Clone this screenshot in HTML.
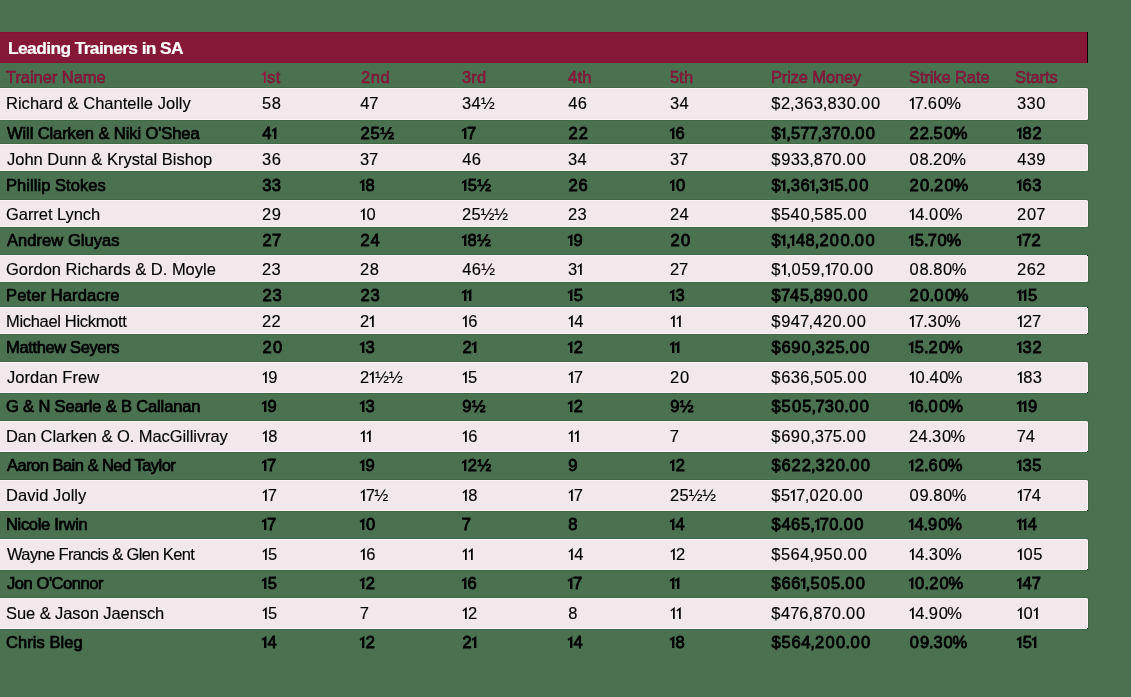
<!DOCTYPE html>
<html><head><meta charset="utf-8"><style>
html,body{margin:0;padding:0;}
body{width:1131px;height:697px;background:#4a7250;position:relative;overflow:hidden;font-family:"Liberation Sans",sans-serif;}
.p{position:absolute;left:0;width:1087px;background:#f2e8ec;border:1px solid #fdf1f6;border-left:0;border-radius:0 1.5px 1.5px 0;box-shadow:0 0 0 1px #3d6944;box-sizing:border-box;width:1088px;}
.t{position:absolute;will-change:transform;white-space:nowrap;line-height:20px;font-size:16.5px;color:#000;-webkit-text-stroke:0.15px #000;}
.b{font-weight:normal;color:#000;-webkit-text-stroke:0.7px #000;}
.b.n{-webkit-text-stroke-width:0.85px;}
.h{color:#9c1644;-webkit-text-stroke:0.45px #6e0c2c;}
.t i{display:inline-block;font-style:normal;white-space:pre;}
.t i.d0{width:10.200px;text-indent:0.512px}
.b i.d0{width:10.600px;text-indent:0.712px}
.t i.d2{width:9.400px;text-indent:0.112px}
.b i.d2{width:10.200px;text-indent:0.512px}
.t i.d3{width:9.400px;text-indent:0.112px}
.b i.d3{width:9.600px;text-indent:0.212px}
.t i.d4{width:9.600px;text-indent:0.212px}
.b i.d4{width:9.600px;text-indent:0.212px}
.t i.d5{width:9.400px;text-indent:0.112px}
.b i.d5{width:10.000px;text-indent:0.412px}
.t i.d6{width:9.700px;text-indent:0.262px}
.b i.d6{width:9.800px;text-indent:0.312px}
.t i.d7{width:8.600px;text-indent:-0.288px}
.b i.d7{width:8.700px;text-indent:-0.238px}
.t i.d8{width:9.700px;text-indent:0.262px}
.b i.d8{width:9.600px;text-indent:0.212px}
.t i.d9{width:9.700px;text-indent:0.262px}
.b i.d9{width:9.800px;text-indent:0.312px}
.t i.dS{width:9.900px;text-indent:0.362px}
.b i.dS{width:10.200px;text-indent:0.512px}
.t i.dC{width:4.200px;text-indent:-0.192px}
.b i.dC{width:4.000px;text-indent:-0.292px}
.t i.dP{width:4.000px;text-indent:-0.292px}
.b i.dP{width:3.800px;text-indent:-0.392px}
.t i.dR{width:12.400px;text-indent:-1.136px}
.b i.dR{width:12.800px;text-indent:-0.936px}
.t i.dH{width:13.600px;text-indent:-0.080px}
.b i.dH{width:13.700px;text-indent:-0.030px}
.t i.d1{width:6.00px;height:20px;position:relative;vertical-align:top;color:transparent;-webkit-text-stroke:0;}
.b i.d1{width:5.30px;}
.t i.d1::after{content:"";position:absolute;left:calc(var(--o,0px) - 2px);top:4.0px;width:9px;height:12px;background:#000;clip-path:polygon(6.65px 0.1px,6.65px 12px,4.9px 12px,4.9px 3.0px,3.1px 4.5px,2.3px 3.3px);}
.b i.d1::after{clip-path:polygon(6.4px 0.1px,6.4px 12px,4.0px 12px,4.0px 3.6px,2.4px 4.7px,1.5px 3.1px);}
.h i.d1::after{background:#9c1644}
#title{position:absolute;left:0;top:32px;width:1087px;height:31px;background:#851737;border-right:1px solid #0a0204;box-shadow:inset 0 1px 0 #8b1035,inset 0 -1px 0 #8b1035;}
</style></head><body>
<div id="title"><div class="t" style="left:7.50px;top:5.97px;font-size:17.4px;font-weight:bold;color:#fff;-webkit-text-stroke:0.2px #fff;letter-spacing:-0.609px">Leading Trainers in SA</div></div>
<div class="p" style="top:88.0px;height:32.0px"></div>
<div class="p" style="top:144.0px;height:27.0px"></div>
<div class="p" style="top:200.0px;height:27.0px"></div>
<div class="p" style="top:255.0px;height:27.0px"></div>
<div class="p" style="top:307.0px;height:27.0px"></div>
<div class="p" style="top:362.0px;height:31.0px"></div>
<div class="p" style="top:421.0px;height:31.0px"></div>
<div class="p" style="top:480.0px;height:31.0px"></div>
<div class="p" style="top:539.0px;height:31.0px"></div>
<div class="p" style="top:598.0px;height:31.0px"></div>
<div style="position:absolute;left:1087px;top:255px;width:1px;height:1px;background:#2a0d16"></div>
<div style="position:absolute;left:1087px;top:307px;width:1px;height:1px;background:#2a0d16"></div>
<div style="position:absolute;left:1087px;top:333px;width:1px;height:1px;background:#2a0d16"></div>
<div style="position:absolute;left:1087px;top:392px;width:1px;height:1px;background:#2a0d16"></div>
<div style="position:absolute;left:1087px;top:451px;width:1px;height:1px;background:#2a0d16"></div>
<div style="position:absolute;left:1087px;top:510px;width:1px;height:1px;background:#2a0d16"></div>
<div style="position:absolute;left:1087px;top:569px;width:1px;height:1px;background:#2a0d16"></div>
<div style="position:absolute;left:1087px;top:628px;width:1px;height:1px;background:#2a0d16"></div>
<div class="t h" style="left:6.20px;top:67.08px;letter-spacing:-0.052px">Trainer Name</div>
<div class="t h" style="left:261px;top:67.08px;letter-spacing:0.6px"><i class="d1" style="--o:0.10px">1</i>st</div>
<div class="t h" style="left:360.70px;top:67.08px;letter-spacing:0.523px">2nd</div>
<div class="t h" style="left:461.90px;top:67.08px;letter-spacing:0.164px">3rd</div>
<div class="t h" style="left:568.10px;top:67.08px;letter-spacing:0.270px">4th</div>
<div class="t h" style="left:670.30px;top:67.08px;letter-spacing:0.120px">5th</div>
<div class="t h" style="left:771.20px;top:67.08px;letter-spacing:-0.145px">Prize Money</div>
<div class="t h" style="left:908.60px;top:67.08px;letter-spacing:-0.104px">Strike Rate</div>
<div class="t h" style="left:1015.30px;top:67.08px;letter-spacing:-0.049px">Starts</div>
<div class="t" style="left:5.50px;top:93.08px;letter-spacing:0.017px">Richard &amp; Chantelle Jolly</div>
<div class="t" style="left:262.0px;top:93.08px"><i class="d5">5</i><i class="d8">8</i></div>
<div class="t" style="left:360.0px;top:93.08px"><i class="d4">4</i><i class="d7">7</i></div>
<div class="t" style="left:462.0px;top:93.08px"><i class="d3">3</i><i class="d4">4</i><i class="dH">½</i></div>
<div class="t" style="left:568.0px;top:93.08px"><i class="d4">4</i><i class="d6">6</i></div>
<div class="t" style="left:670.0px;top:93.08px"><i class="d3">3</i><i class="d4">4</i></div>
<div class="t" style="left:771.0px;top:93.08px"><i class="dS">$</i><i class="d2">2</i><i class="dC">,</i><i class="d3">3</i><i class="d6">6</i><i class="d3">3</i><i class="dC">,</i><i class="d8">8</i><i class="d3">3</i><i class="d0">0</i><i class="dP">.</i><i class="d0">0</i><i class="d0">0</i></div>
<div class="t" style="left:909.0px;top:93.08px"><i class="d1" style="--o:0.10px">1</i><i class="d7">7</i><i class="dP">.</i><i class="d6">6</i><i class="d0">0</i><i class="dR">%</i></div>
<div class="t" style="left:1017.0px;top:93.08px"><i class="d3">3</i><i class="d3">3</i><i class="d0">0</i></div>
<div class="t b" style="left:6.50px;top:122.98px;letter-spacing:-0.088px">Will Clarken &amp; Niki O'Shea</div>
<div class="t b n" style="left:262.0px;top:122.98px"><i class="d4">4</i><i class="d1" style="--o:0.40px">1</i></div>
<div class="t b n" style="left:360.0px;top:122.98px"><i class="d2">2</i><i class="d5">5</i><i class="dH">½</i></div>
<div class="t b n" style="left:462.0px;top:122.98px"><i class="d1" style="--o:0.00px">1</i><i class="d7">7</i></div>
<div class="t b n" style="left:568.0px;top:122.98px"><i class="d2">2</i><i class="d2">2</i></div>
<div class="t b n" style="left:670.0px;top:122.98px"><i class="d1" style="--o:0.00px">1</i><i class="d6">6</i></div>
<div class="t b n" style="left:771.0px;top:122.98px"><i class="dS">$</i><i class="d1" style="--o:-0.20px">1</i><i class="dC">,</i><i class="d5">5</i><i class="d7">7</i><i class="d7">7</i><i class="dC">,</i><i class="d3">3</i><i class="d7">7</i><i class="d0">0</i><i class="dP">.</i><i class="d0">0</i><i class="d0">0</i></div>
<div class="t b n" style="left:909.0px;top:122.98px"><i class="d2">2</i><i class="d2">2</i><i class="dP">.</i><i class="d5">5</i><i class="d0">0</i><i class="dR">%</i></div>
<div class="t b n" style="left:1017.0px;top:122.98px"><i class="d1" style="--o:0.00px">1</i><i class="d8">8</i><i class="d2">2</i></div>
<div class="t" style="left:6.50px;top:148.98px;letter-spacing:-0.007px">John Dunn &amp; Krystal Bishop</div>
<div class="t" style="left:262.0px;top:148.98px"><i class="d3">3</i><i class="d6">6</i></div>
<div class="t" style="left:360.0px;top:148.98px"><i class="d3">3</i><i class="d7">7</i></div>
<div class="t" style="left:462.0px;top:148.98px"><i class="d4">4</i><i class="d6">6</i></div>
<div class="t" style="left:568.0px;top:148.98px"><i class="d3">3</i><i class="d4">4</i></div>
<div class="t" style="left:670.0px;top:148.98px"><i class="d3">3</i><i class="d7">7</i></div>
<div class="t" style="left:771.0px;top:148.98px"><i class="dS">$</i><i class="d9">9</i><i class="d3">3</i><i class="d3">3</i><i class="dC">,</i><i class="d8">8</i><i class="d7">7</i><i class="d0">0</i><i class="dP">.</i><i class="d0">0</i><i class="d0">0</i></div>
<div class="t" style="left:909.0px;top:148.98px"><i class="d0">0</i><i class="d8">8</i><i class="dP">.</i><i class="d2">2</i><i class="d0">0</i><i class="dR">%</i></div>
<div class="t" style="left:1017.0px;top:148.98px"><i class="d4">4</i><i class="d3">3</i><i class="d9">9</i></div>
<div class="t b" style="left:5.50px;top:175.18px;letter-spacing:0.054px">Phillip Stokes</div>
<div class="t b n" style="left:262.0px;top:175.18px"><i class="d3">3</i><i class="d3">3</i></div>
<div class="t b n" style="left:360.0px;top:175.18px"><i class="d1" style="--o:0.00px">1</i><i class="d8">8</i></div>
<div class="t b n" style="left:462.0px;top:175.18px"><i class="d1" style="--o:0.00px">1</i><i class="d5">5</i><i class="dH">½</i></div>
<div class="t b n" style="left:568.0px;top:175.18px"><i class="d2">2</i><i class="d6">6</i></div>
<div class="t b n" style="left:670.0px;top:175.18px"><i class="d1" style="--o:0.00px">1</i><i class="d0">0</i></div>
<div class="t b n" style="left:771.0px;top:175.18px"><i class="dS">$</i><i class="d1" style="--o:-0.20px">1</i><i class="dC">,</i><i class="d3">3</i><i class="d6">6</i><i class="d1" style="--o:0.10px">1</i><i class="dC">,</i><i class="d3">3</i><i class="d1" style="--o:0.20px">1</i><i class="d5">5</i><i class="dP">.</i><i class="d0">0</i><i class="d0">0</i></div>
<div class="t b n" style="left:909.0px;top:175.18px"><i class="d2">2</i><i class="d0">0</i><i class="dP">.</i><i class="d2">2</i><i class="d0">0</i><i class="dR">%</i></div>
<div class="t b n" style="left:1017.0px;top:175.18px"><i class="d1" style="--o:0.00px">1</i><i class="d6">6</i><i class="d3">3</i></div>
<div class="t" style="left:5.70px;top:204.28px;letter-spacing:-0.053px">Garret Lynch</div>
<div class="t" style="left:262.0px;top:204.28px"><i class="d2">2</i><i class="d9">9</i></div>
<div class="t" style="left:360.0px;top:204.28px"><i class="d1" style="--o:0.10px">1</i><i class="d0">0</i></div>
<div class="t" style="left:462.0px;top:204.28px"><i class="d2">2</i><i class="d5">5</i><i class="dH">½</i><i class="dH">½</i></div>
<div class="t" style="left:568.0px;top:204.28px"><i class="d2">2</i><i class="d3">3</i></div>
<div class="t" style="left:670.0px;top:204.28px"><i class="d2">2</i><i class="d4">4</i></div>
<div class="t" style="left:771.0px;top:204.28px"><i class="dS">$</i><i class="d5">5</i><i class="d4">4</i><i class="d0">0</i><i class="dC">,</i><i class="d5">5</i><i class="d8">8</i><i class="d5">5</i><i class="dP">.</i><i class="d0">0</i><i class="d0">0</i></div>
<div class="t" style="left:909.0px;top:204.28px"><i class="d1" style="--o:0.10px">1</i><i class="d4">4</i><i class="dP">.</i><i class="d0">0</i><i class="d0">0</i><i class="dR">%</i></div>
<div class="t" style="left:1017.0px;top:204.28px"><i class="d2">2</i><i class="d0">0</i><i class="d7">7</i></div>
<div class="t b" style="left:6.50px;top:230.28px;letter-spacing:0.056px">Andrew Gluyas</div>
<div class="t b n" style="left:262.0px;top:230.28px"><i class="d2">2</i><i class="d7">7</i></div>
<div class="t b n" style="left:360.0px;top:230.28px"><i class="d2">2</i><i class="d4">4</i></div>
<div class="t b n" style="left:462.0px;top:230.28px"><i class="d1" style="--o:0.00px">1</i><i class="d8">8</i><i class="dH">½</i></div>
<div class="t b n" style="left:568.0px;top:230.28px"><i class="d1" style="--o:0.00px">1</i><i class="d9">9</i></div>
<div class="t b n" style="left:670.0px;top:230.28px"><i class="d2">2</i><i class="d0">0</i></div>
<div class="t b n" style="left:771.0px;top:230.28px"><i class="dS">$</i><i class="d1" style="--o:-0.20px">1</i><i class="dC">,</i><i class="d1" style="--o:-0.50px">1</i><i class="d4">4</i><i class="d8">8</i><i class="dC">,</i><i class="d2">2</i><i class="d0">0</i><i class="d0">0</i><i class="dP">.</i><i class="d0">0</i><i class="d0">0</i></div>
<div class="t b n" style="left:909.0px;top:230.28px"><i class="d1" style="--o:0.00px">1</i><i class="d5">5</i><i class="dP">.</i><i class="d7">7</i><i class="d0">0</i><i class="dR">%</i></div>
<div class="t b n" style="left:1017.0px;top:230.28px"><i class="d1" style="--o:0.00px">1</i><i class="d7">7</i><i class="d2">2</i></div>
<div class="t" style="left:5.70px;top:259.48px;letter-spacing:-0.005px">Gordon Richards &amp; D. Moyle</div>
<div class="t" style="left:262.0px;top:259.48px"><i class="d2">2</i><i class="d3">3</i></div>
<div class="t" style="left:360.0px;top:259.48px"><i class="d2">2</i><i class="d8">8</i></div>
<div class="t" style="left:462.0px;top:259.48px"><i class="d4">4</i><i class="d6">6</i><i class="dH">½</i></div>
<div class="t" style="left:568.0px;top:259.48px"><i class="d3">3</i><i class="d1" style="--o:-0.30px">1</i></div>
<div class="t" style="left:670.0px;top:259.48px"><i class="d2">2</i><i class="d7">7</i></div>
<div class="t" style="left:771.0px;top:259.48px"><i class="dS">$</i><i class="d1" style="--o:0.20px">1</i><i class="dC">,</i><i class="d0">0</i><i class="d5">5</i><i class="d9">9</i><i class="dC">,</i><i class="d1" style="--o:0.50px">1</i><i class="d7">7</i><i class="d0">0</i><i class="dP">.</i><i class="d0">0</i><i class="d0">0</i></div>
<div class="t" style="left:909.0px;top:259.48px"><i class="d0">0</i><i class="d8">8</i><i class="dP">.</i><i class="d8">8</i><i class="d0">0</i><i class="dR">%</i></div>
<div class="t" style="left:1017.0px;top:259.48px"><i class="d2">2</i><i class="d6">6</i><i class="d2">2</i></div>
<div class="t b" style="left:5.50px;top:284.98px;letter-spacing:0.123px">Peter Hardacre</div>
<div class="t b n" style="left:262.0px;top:284.98px"><i class="d2">2</i><i class="d3">3</i></div>
<div class="t b n" style="left:360.0px;top:284.98px"><i class="d2">2</i><i class="d3">3</i></div>
<div class="t b n" style="left:462.0px;top:284.98px"><i class="d1" style="--o:0.00px">1</i><i class="d1" style="--o:-0.30px">1</i></div>
<div class="t b n" style="left:568.0px;top:284.98px"><i class="d1" style="--o:0.00px">1</i><i class="d5">5</i></div>
<div class="t b n" style="left:670.0px;top:284.98px"><i class="d1" style="--o:0.00px">1</i><i class="d3">3</i></div>
<div class="t b n" style="left:771.0px;top:284.98px"><i class="dS">$</i><i class="d7">7</i><i class="d4">4</i><i class="d5">5</i><i class="dC">,</i><i class="d8">8</i><i class="d9">9</i><i class="d0">0</i><i class="dP">.</i><i class="d0">0</i><i class="d0">0</i></div>
<div class="t b n" style="left:909.0px;top:284.98px"><i class="d2">2</i><i class="d0">0</i><i class="dP">.</i><i class="d0">0</i><i class="d0">0</i><i class="dR">%</i></div>
<div class="t b n" style="left:1017.0px;top:284.98px"><i class="d1" style="--o:0.00px">1</i><i class="d1" style="--o:-0.30px">1</i><i class="d5">5</i></div>
<div class="t" style="left:5.50px;top:310.78px;letter-spacing:-0.322px">Michael Hickmott</div>
<div class="t" style="left:262.0px;top:310.78px"><i class="d2">2</i><i class="d2">2</i></div>
<div class="t" style="left:360.0px;top:310.78px"><i class="d2">2</i><i class="d1" style="--o:-0.30px">1</i></div>
<div class="t" style="left:462.0px;top:310.78px"><i class="d1" style="--o:0.10px">1</i><i class="d6">6</i></div>
<div class="t" style="left:568.0px;top:310.78px"><i class="d1" style="--o:0.10px">1</i><i class="d4">4</i></div>
<div class="t" style="left:670.0px;top:310.78px"><i class="d1" style="--o:0.10px">1</i><i class="d1" style="--o:0.10px">1</i></div>
<div class="t" style="left:771.0px;top:310.78px"><i class="dS">$</i><i class="d9">9</i><i class="d4">4</i><i class="d7">7</i><i class="dC">,</i><i class="d4">4</i><i class="d2">2</i><i class="d0">0</i><i class="dP">.</i><i class="d0">0</i><i class="d0">0</i></div>
<div class="t" style="left:909.0px;top:310.78px"><i class="d1" style="--o:0.10px">1</i><i class="d7">7</i><i class="dP">.</i><i class="d3">3</i><i class="d0">0</i><i class="dR">%</i></div>
<div class="t" style="left:1017.0px;top:310.78px"><i class="d1" style="--o:0.10px">1</i><i class="d2">2</i><i class="d7">7</i></div>
<div class="t b" style="left:5.50px;top:336.98px;letter-spacing:-0.365px">Matthew Seyers</div>
<div class="t b n" style="left:262.0px;top:336.98px"><i class="d2">2</i><i class="d0">0</i></div>
<div class="t b n" style="left:360.0px;top:336.98px"><i class="d1" style="--o:0.00px">1</i><i class="d3">3</i></div>
<div class="t b n" style="left:462.0px;top:336.98px"><i class="d2">2</i><i class="d1" style="--o:-0.20px">1</i></div>
<div class="t b n" style="left:568.0px;top:336.98px"><i class="d1" style="--o:0.00px">1</i><i class="d2">2</i></div>
<div class="t b n" style="left:670.0px;top:336.98px"><i class="d1" style="--o:0.00px">1</i><i class="d1" style="--o:-0.30px">1</i></div>
<div class="t b n" style="left:771.0px;top:336.98px"><i class="dS">$</i><i class="d6">6</i><i class="d9">9</i><i class="d0">0</i><i class="dC">,</i><i class="d3">3</i><i class="d2">2</i><i class="d5">5</i><i class="dP">.</i><i class="d0">0</i><i class="d0">0</i></div>
<div class="t b n" style="left:909.0px;top:336.98px"><i class="d1" style="--o:0.00px">1</i><i class="d5">5</i><i class="dP">.</i><i class="d2">2</i><i class="d0">0</i><i class="dR">%</i></div>
<div class="t b n" style="left:1017.0px;top:336.98px"><i class="d1" style="--o:0.00px">1</i><i class="d3">3</i><i class="d2">2</i></div>
<div class="t" style="left:6.50px;top:367.08px;letter-spacing:0.042px">Jordan Frew</div>
<div class="t" style="left:262.0px;top:367.08px"><i class="d1" style="--o:0.10px">1</i><i class="d9">9</i></div>
<div class="t" style="left:360.0px;top:367.08px"><i class="d2">2</i><i class="d1" style="--o:-0.30px">1</i><i class="dH">½</i><i class="dH">½</i></div>
<div class="t" style="left:462.0px;top:367.08px"><i class="d1" style="--o:0.10px">1</i><i class="d5">5</i></div>
<div class="t" style="left:568.0px;top:367.08px"><i class="d1" style="--o:0.10px">1</i><i class="d7">7</i></div>
<div class="t" style="left:670.0px;top:367.08px"><i class="d2">2</i><i class="d0">0</i></div>
<div class="t" style="left:771.0px;top:367.08px"><i class="dS">$</i><i class="d6">6</i><i class="d3">3</i><i class="d6">6</i><i class="dC">,</i><i class="d5">5</i><i class="d0">0</i><i class="d5">5</i><i class="dP">.</i><i class="d0">0</i><i class="d0">0</i></div>
<div class="t" style="left:909.0px;top:367.08px"><i class="d1" style="--o:0.10px">1</i><i class="d0">0</i><i class="dP">.</i><i class="d4">4</i><i class="d0">0</i><i class="dR">%</i></div>
<div class="t" style="left:1017.0px;top:367.08px"><i class="d1" style="--o:0.10px">1</i><i class="d8">8</i><i class="d3">3</i></div>
<div class="t b" style="left:5.70px;top:396.38px;letter-spacing:-0.155px">G &amp; N Searle &amp; B Callanan</div>
<div class="t b n" style="left:262.0px;top:396.38px"><i class="d1" style="--o:0.00px">1</i><i class="d9">9</i></div>
<div class="t b n" style="left:360.0px;top:396.38px"><i class="d1" style="--o:0.00px">1</i><i class="d3">3</i></div>
<div class="t b n" style="left:462.0px;top:396.38px"><i class="d9">9</i><i class="dH">½</i></div>
<div class="t b n" style="left:568.0px;top:396.38px"><i class="d1" style="--o:0.00px">1</i><i class="d2">2</i></div>
<div class="t b n" style="left:670.0px;top:396.38px"><i class="d9">9</i><i class="dH">½</i></div>
<div class="t b n" style="left:771.0px;top:396.38px"><i class="dS">$</i><i class="d5">5</i><i class="d0">0</i><i class="d5">5</i><i class="dC">,</i><i class="d7">7</i><i class="d3">3</i><i class="d0">0</i><i class="dP">.</i><i class="d0">0</i><i class="d0">0</i></div>
<div class="t b n" style="left:909.0px;top:396.38px"><i class="d1" style="--o:0.00px">1</i><i class="d6">6</i><i class="dP">.</i><i class="d0">0</i><i class="d0">0</i><i class="dR">%</i></div>
<div class="t b n" style="left:1017.0px;top:396.38px"><i class="d1" style="--o:0.00px">1</i><i class="d1" style="--o:-0.30px">1</i><i class="d9">9</i></div>
<div class="t" style="left:5.50px;top:426.28px;letter-spacing:-0.067px">Dan Clarken &amp; O. MacGillivray</div>
<div class="t" style="left:262.0px;top:426.28px"><i class="d1" style="--o:0.10px">1</i><i class="d8">8</i></div>
<div class="t" style="left:360.0px;top:426.28px"><i class="d1" style="--o:0.10px">1</i><i class="d1" style="--o:0.10px">1</i></div>
<div class="t" style="left:462.0px;top:426.28px"><i class="d1" style="--o:0.10px">1</i><i class="d6">6</i></div>
<div class="t" style="left:568.0px;top:426.28px"><i class="d1" style="--o:0.10px">1</i><i class="d1" style="--o:0.10px">1</i></div>
<div class="t" style="left:670.0px;top:426.28px"><i class="d7">7</i></div>
<div class="t" style="left:771.0px;top:426.28px"><i class="dS">$</i><i class="d6">6</i><i class="d9">9</i><i class="d0">0</i><i class="dC">,</i><i class="d3">3</i><i class="d7">7</i><i class="d5">5</i><i class="dP">.</i><i class="d0">0</i><i class="d0">0</i></div>
<div class="t" style="left:909.0px;top:426.28px"><i class="d2">2</i><i class="d4">4</i><i class="dP">.</i><i class="d3">3</i><i class="d0">0</i><i class="dR">%</i></div>
<div class="t" style="left:1017.0px;top:426.28px"><i class="d7">7</i><i class="d4">4</i></div>
<div class="t b" style="left:6.50px;top:455.38px;letter-spacing:-0.527px">Aaron Bain &amp; Ned Taylor</div>
<div class="t b n" style="left:262.0px;top:455.38px"><i class="d1" style="--o:0.00px">1</i><i class="d7">7</i></div>
<div class="t b n" style="left:360.0px;top:455.38px"><i class="d1" style="--o:0.00px">1</i><i class="d9">9</i></div>
<div class="t b n" style="left:462.0px;top:455.38px"><i class="d1" style="--o:0.00px">1</i><i class="d2">2</i><i class="dH">½</i></div>
<div class="t b n" style="left:568.0px;top:455.38px"><i class="d9">9</i></div>
<div class="t b n" style="left:670.0px;top:455.38px"><i class="d1" style="--o:0.00px">1</i><i class="d2">2</i></div>
<div class="t b n" style="left:771.0px;top:455.38px"><i class="dS">$</i><i class="d6">6</i><i class="d2">2</i><i class="d2">2</i><i class="dC">,</i><i class="d3">3</i><i class="d2">2</i><i class="d0">0</i><i class="dP">.</i><i class="d0">0</i><i class="d0">0</i></div>
<div class="t b n" style="left:909.0px;top:455.38px"><i class="d1" style="--o:0.00px">1</i><i class="d2">2</i><i class="dP">.</i><i class="d6">6</i><i class="d0">0</i><i class="dR">%</i></div>
<div class="t b n" style="left:1017.0px;top:455.38px"><i class="d1" style="--o:0.00px">1</i><i class="d3">3</i><i class="d5">5</i></div>
<div class="t" style="left:5.50px;top:484.98px;letter-spacing:0.057px">David Jolly</div>
<div class="t" style="left:262.0px;top:484.98px"><i class="d1" style="--o:0.10px">1</i><i class="d7">7</i></div>
<div class="t" style="left:360.0px;top:484.98px"><i class="d1" style="--o:0.10px">1</i><i class="d7">7</i><i class="dH">½</i></div>
<div class="t" style="left:462.0px;top:484.98px"><i class="d1" style="--o:0.10px">1</i><i class="d8">8</i></div>
<div class="t" style="left:568.0px;top:484.98px"><i class="d1" style="--o:0.10px">1</i><i class="d7">7</i></div>
<div class="t" style="left:670.0px;top:484.98px"><i class="d2">2</i><i class="d5">5</i><i class="dH">½</i><i class="dH">½</i></div>
<div class="t" style="left:771.0px;top:484.98px"><i class="dS">$</i><i class="d5">5</i><i class="d1" style="--o:-0.20px">1</i><i class="d7">7</i><i class="dC">,</i><i class="d0">0</i><i class="d2">2</i><i class="d0">0</i><i class="dP">.</i><i class="d0">0</i><i class="d0">0</i></div>
<div class="t" style="left:909.0px;top:484.98px"><i class="d0">0</i><i class="d9">9</i><i class="dP">.</i><i class="d8">8</i><i class="d0">0</i><i class="dR">%</i></div>
<div class="t" style="left:1017.0px;top:484.98px"><i class="d1" style="--o:0.10px">1</i><i class="d7">7</i><i class="d4">4</i></div>
<div class="t b" style="left:5.50px;top:513.98px;letter-spacing:-0.327px">Nicole Irwin</div>
<div class="t b n" style="left:262.0px;top:513.98px"><i class="d1" style="--o:0.00px">1</i><i class="d7">7</i></div>
<div class="t b n" style="left:360.0px;top:513.98px"><i class="d1" style="--o:0.00px">1</i><i class="d0">0</i></div>
<div class="t b n" style="left:462.0px;top:513.98px"><i class="d7">7</i></div>
<div class="t b n" style="left:568.0px;top:513.98px"><i class="d8">8</i></div>
<div class="t b n" style="left:670.0px;top:513.98px"><i class="d1" style="--o:0.00px">1</i><i class="d4">4</i></div>
<div class="t b n" style="left:771.0px;top:513.98px"><i class="dS">$</i><i class="d4">4</i><i class="d6">6</i><i class="d5">5</i><i class="dC">,</i><i class="d1" style="--o:0.40px">1</i><i class="d7">7</i><i class="d0">0</i><i class="dP">.</i><i class="d0">0</i><i class="d0">0</i></div>
<div class="t b n" style="left:909.0px;top:513.98px"><i class="d1" style="--o:0.00px">1</i><i class="d4">4</i><i class="dP">.</i><i class="d9">9</i><i class="d0">0</i><i class="dR">%</i></div>
<div class="t b n" style="left:1017.0px;top:513.98px"><i class="d1" style="--o:0.00px">1</i><i class="d1" style="--o:-0.30px">1</i><i class="d4">4</i></div>
<div class="t" style="left:6.50px;top:543.88px;letter-spacing:-0.629px">Wayne Francis &amp; Glen Kent</div>
<div class="t" style="left:262.0px;top:543.88px"><i class="d1" style="--o:0.10px">1</i><i class="d5">5</i></div>
<div class="t" style="left:360.0px;top:543.88px"><i class="d1" style="--o:0.10px">1</i><i class="d6">6</i></div>
<div class="t" style="left:462.0px;top:543.88px"><i class="d1" style="--o:0.10px">1</i><i class="d1" style="--o:0.10px">1</i></div>
<div class="t" style="left:568.0px;top:543.88px"><i class="d1" style="--o:0.10px">1</i><i class="d4">4</i></div>
<div class="t" style="left:670.0px;top:543.88px"><i class="d1" style="--o:0.10px">1</i><i class="d2">2</i></div>
<div class="t" style="left:771.0px;top:543.88px"><i class="dS">$</i><i class="d5">5</i><i class="d6">6</i><i class="d4">4</i><i class="dC">,</i><i class="d9">9</i><i class="d5">5</i><i class="d0">0</i><i class="dP">.</i><i class="d0">0</i><i class="d0">0</i></div>
<div class="t" style="left:909.0px;top:543.88px"><i class="d1" style="--o:0.10px">1</i><i class="d4">4</i><i class="dP">.</i><i class="d3">3</i><i class="d0">0</i><i class="dR">%</i></div>
<div class="t" style="left:1017.0px;top:543.88px"><i class="d1" style="--o:0.10px">1</i><i class="d0">0</i><i class="d5">5</i></div>
<div class="t b" style="left:6.50px;top:572.78px;letter-spacing:-0.427px">Jon O'Connor</div>
<div class="t b n" style="left:262.0px;top:572.78px"><i class="d1" style="--o:0.00px">1</i><i class="d5">5</i></div>
<div class="t b n" style="left:360.0px;top:572.78px"><i class="d1" style="--o:0.00px">1</i><i class="d2">2</i></div>
<div class="t b n" style="left:462.0px;top:572.78px"><i class="d1" style="--o:0.00px">1</i><i class="d6">6</i></div>
<div class="t b n" style="left:568.0px;top:572.78px"><i class="d1" style="--o:0.00px">1</i><i class="d7">7</i></div>
<div class="t b n" style="left:670.0px;top:572.78px"><i class="d1" style="--o:0.00px">1</i><i class="d1" style="--o:-0.30px">1</i></div>
<div class="t b n" style="left:771.0px;top:572.78px"><i class="dS">$</i><i class="d6">6</i><i class="d6">6</i><i class="d1" style="--o:0.20px">1</i><i class="dC">,</i><i class="d5">5</i><i class="d0">0</i><i class="d5">5</i><i class="dP">.</i><i class="d0">0</i><i class="d0">0</i></div>
<div class="t b n" style="left:909.0px;top:572.78px"><i class="d1" style="--o:0.00px">1</i><i class="d0">0</i><i class="dP">.</i><i class="d2">2</i><i class="d0">0</i><i class="dR">%</i></div>
<div class="t b n" style="left:1017.0px;top:572.78px"><i class="d1" style="--o:0.00px">1</i><i class="d4">4</i><i class="d7">7</i></div>
<div class="t" style="left:5.70px;top:602.98px;letter-spacing:-0.074px">Sue &amp; Jason Jaensch</div>
<div class="t" style="left:262.0px;top:602.98px"><i class="d1" style="--o:0.10px">1</i><i class="d5">5</i></div>
<div class="t" style="left:360.0px;top:602.98px"><i class="d7">7</i></div>
<div class="t" style="left:462.0px;top:602.98px"><i class="d1" style="--o:0.10px">1</i><i class="d2">2</i></div>
<div class="t" style="left:568.0px;top:602.98px"><i class="d8">8</i></div>
<div class="t" style="left:670.0px;top:602.98px"><i class="d1" style="--o:0.10px">1</i><i class="d1" style="--o:0.10px">1</i></div>
<div class="t" style="left:771.0px;top:602.98px"><i class="dS">$</i><i class="d4">4</i><i class="d7">7</i><i class="d6">6</i><i class="dC">,</i><i class="d8">8</i><i class="d7">7</i><i class="d0">0</i><i class="dP">.</i><i class="d0">0</i><i class="d0">0</i></div>
<div class="t" style="left:909.0px;top:602.98px"><i class="d1" style="--o:0.10px">1</i><i class="d4">4</i><i class="dP">.</i><i class="d9">9</i><i class="d0">0</i><i class="dR">%</i></div>
<div class="t" style="left:1017.0px;top:602.98px"><i class="d1" style="--o:0.10px">1</i><i class="d0">0</i><i class="d1" style="--o:-0.10px">1</i></div>
<div class="t b" style="left:5.70px;top:631.88px;letter-spacing:0.052px">Chris Bleg</div>
<div class="t b n" style="left:262.0px;top:631.88px"><i class="d1" style="--o:0.00px">1</i><i class="d4">4</i></div>
<div class="t b n" style="left:360.0px;top:631.88px"><i class="d1" style="--o:0.00px">1</i><i class="d2">2</i></div>
<div class="t b n" style="left:462.0px;top:631.88px"><i class="d2">2</i><i class="d1" style="--o:-0.20px">1</i></div>
<div class="t b n" style="left:568.0px;top:631.88px"><i class="d1" style="--o:0.00px">1</i><i class="d4">4</i></div>
<div class="t b n" style="left:670.0px;top:631.88px"><i class="d1" style="--o:0.00px">1</i><i class="d8">8</i></div>
<div class="t b n" style="left:771.0px;top:631.88px"><i class="dS">$</i><i class="d5">5</i><i class="d6">6</i><i class="d4">4</i><i class="dC">,</i><i class="d2">2</i><i class="d0">0</i><i class="d0">0</i><i class="dP">.</i><i class="d0">0</i><i class="d0">0</i></div>
<div class="t b n" style="left:909.0px;top:631.88px"><i class="d0">0</i><i class="d9">9</i><i class="dP">.</i><i class="d3">3</i><i class="d0">0</i><i class="dR">%</i></div>
<div class="t b n" style="left:1017.0px;top:631.88px"><i class="d1" style="--o:0.00px">1</i><i class="d5">5</i><i class="d1" style="--o:-0.30px">1</i></div>
</body></html>
